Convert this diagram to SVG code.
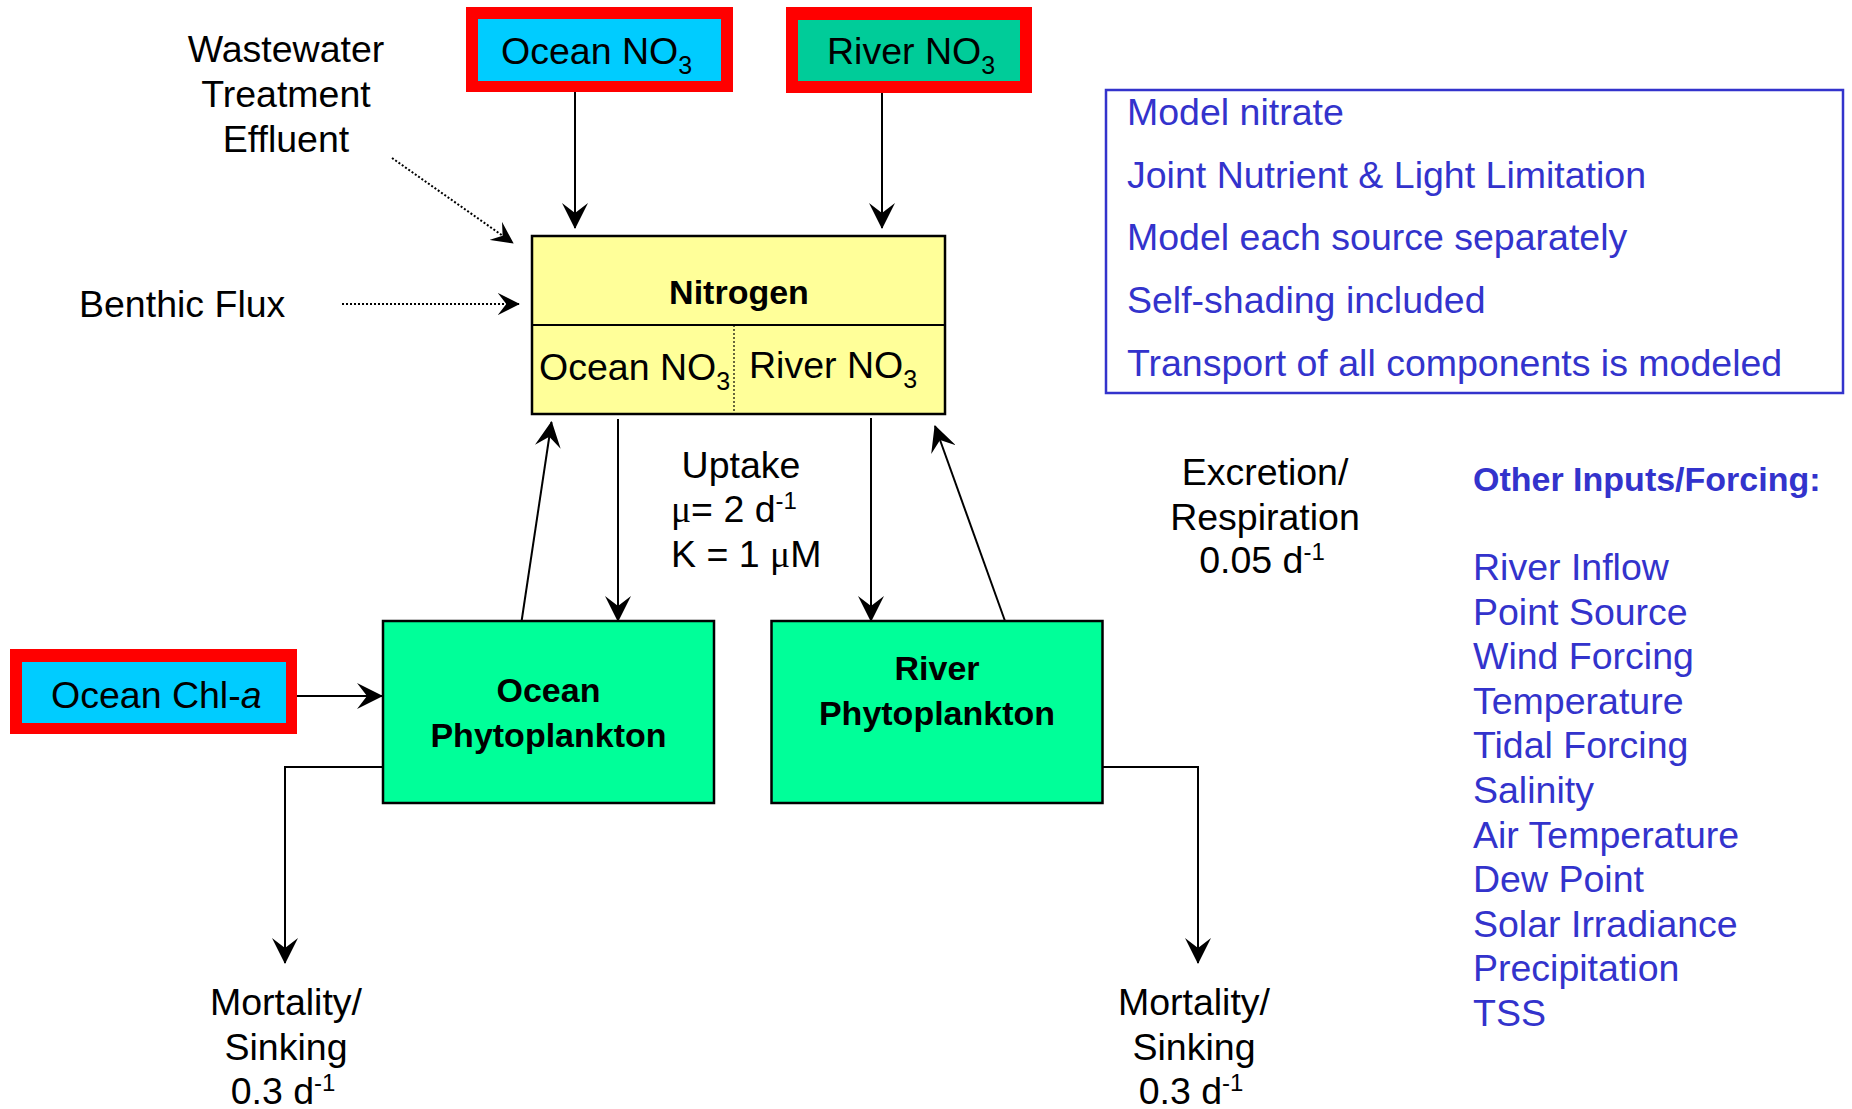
<svg xmlns="http://www.w3.org/2000/svg" width="1852" height="1109" viewBox="0 0 1852 1109">
<style>
text { font-family: "Liberation Sans", Arial, sans-serif; font-size: 37.5px; fill: #000; }
.b { font-weight: bold; font-size: 34px; }
.blue { fill: #3333CC; }
.mid { text-anchor: middle; }
.sym { font-family: "Liberation Serif", "Times New Roman", serif; }
.box { stroke: #000; stroke-width: 2.5; }
.red { fill: #FF0000; }
.conn { fill: none; stroke: #000; stroke-width: 2; }
.dot { fill: none; stroke: #000; stroke-width: 2; stroke-dasharray: 2 2; }
</style>
<defs>
<marker id="ah" markerUnits="userSpaceOnUse" markerWidth="26" markerHeight="26" viewBox="0 0 26 26" refX="25" refY="13" orient="auto">
<path d="M0,0 L26,13 L0,26 L10,13 Z" fill="#000"/>
</marker>
<marker id="ahs" markerUnits="userSpaceOnUse" markerWidth="22" markerHeight="22" viewBox="0 0 26 26" refX="25" refY="13" orient="auto">
<path d="M0,0 L26,13 L0,26 L10,13 Z" fill="#000"/>
</marker>
</defs>
<rect width="1852" height="1109" fill="#fff"/>

<g id="connectors">
<line class="conn" x1="575" y1="92" x2="575" y2="228" marker-end="url(#ah)"/>
<line class="conn" x1="882" y1="93" x2="882" y2="228" marker-end="url(#ah)"/>
<line class="dot" x1="392" y1="158" x2="513" y2="243" marker-end="url(#ahs)"/>
<line class="dot" x1="342" y1="304" x2="519" y2="304" marker-end="url(#ahs)"/>
<line class="conn" x1="618" y1="419" x2="618" y2="621" marker-end="url(#ah)"/>
<line class="conn" x1="871" y1="418" x2="871" y2="621" marker-end="url(#ah)"/>
<line class="conn" x1="521" y1="625" x2="551.5" y2="422" marker-end="url(#ah)"/>
<line class="conn" x1="1005" y1="621" x2="935" y2="426" marker-end="url(#ah)"/>
<line class="conn" x1="297" y1="696" x2="382" y2="696" marker-end="url(#ah)"/>
<path class="conn" d="M383,767 H285 V963" marker-end="url(#ah)"/>
<path class="conn" d="M1102,767 H1198 V963" marker-end="url(#ah)"/>
</g>

<g id="ocean-no3-source">
<rect class="red" x="466" y="7" width="267" height="85"/>
<rect x="478" y="19" width="243" height="62" fill="#00CCFF"/>
<text x="501" y="64">Ocean NO<tspan dy="10" font-size="25">3</tspan></text>
</g>

<g id="river-no3-source">
<rect class="red" x="786" y="7" width="246" height="86"/>
<rect x="798" y="20" width="222" height="61" fill="#00CC99"/>
<text x="827" y="64">River NO<tspan dy="10" font-size="25">3</tspan></text>
</g>

<g id="wastewater">
<text class="mid" x="286" y="62">Wastewater</text>
<text class="mid" x="286" y="107">Treatment</text>
<text class="mid" x="286" y="152">Effluent</text>
</g>

<g id="benthic-flux">
<text x="79" y="317">Benthic Flux</text>
</g>

<g id="nitrogen">
<rect class="box" x="532" y="236" width="413" height="178" fill="#FFFF99"/>
<line x1="532" y1="325" x2="945" y2="325" stroke="#000" stroke-width="2"/>
<line x1="734" y1="325" x2="734" y2="414" stroke="#000" stroke-width="1.2" stroke-dasharray="2 2"/>
<text class="b mid" x="739" y="304">Nitrogen</text>
<text x="539" y="380">Ocean NO<tspan dy="10" font-size="25">3</tspan></text>
<text x="749" y="378">River NO<tspan dy="10" font-size="25">3</tspan></text>
</g>

<g id="uptake">
<text class="mid" x="741" y="478">Uptake</text>
<text x="671" y="522"><tspan class="sym">μ</tspan>= 2 d<tspan dy="-13" font-size="24">-1</tspan></text>
<text x="671" y="567">K = 1 <tspan class="sym">μ</tspan>M</text>
</g>

<g id="excretion">
<text class="mid" x="1265" y="485">Excretion/</text>
<text class="mid" x="1265" y="530">Respiration</text>
<text class="mid" x="1262" y="573">0.05 d<tspan dy="-13" font-size="24">-1</tspan></text>
</g>

<g id="ocean-chla">
<rect class="red" x="10" y="649" width="287" height="85"/>
<rect x="22" y="662" width="264" height="61" fill="#00CCFF"/>
<text x="51" y="708">Ocean Chl-<tspan font-style="italic">a</tspan></text>
</g>

<g id="ocean-phyto">
<rect class="box" x="383" y="621" width="331" height="182" fill="#00FF99"/>
<text class="b mid" x="548.5" y="702">Ocean</text>
<text class="b mid" x="548.5" y="747">Phytoplankton</text>
</g>

<g id="river-phyto">
<rect class="box" x="771.5" y="621" width="331" height="182" fill="#00FF99"/>
<text class="b mid" x="937" y="680">River</text>
<text class="b mid" x="937" y="725">Phytoplankton</text>
</g>

<g id="mortality-ocean">
<text class="mid" x="286" y="1015">Mortality/</text>
<text class="mid" x="286" y="1060">Sinking</text>
<text class="mid" x="283" y="1104">0.3 d<tspan dy="-13" font-size="24">-1</tspan></text>
</g>

<g id="mortality-river">
<text class="mid" x="1194" y="1015">Mortality/</text>
<text class="mid" x="1194" y="1060">Sinking</text>
<text class="mid" x="1191" y="1104">0.3 d<tspan dy="-13" font-size="24">-1</tspan></text>
</g>

<g id="model-notes">
<rect x="1106" y="90" width="737" height="303" fill="#fff" stroke="#3333CC" stroke-width="2.5"/>
<text class="blue" x="1127" y="125">Model nitrate</text>
<text class="blue" x="1127" y="188">Joint Nutrient &amp; Light Limitation</text>
<text class="blue" x="1127" y="250">Model each source separately</text>
<text class="blue" x="1127" y="313">Self-shading included</text>
<text class="blue" x="1127" y="376">Transport of all components is modeled</text>
</g>

<g id="other-inputs">
<text class="blue b" x="1473" y="491">Other Inputs/Forcing:</text>
<text class="blue" x="1473" y="580">River Inflow</text>
<text class="blue" x="1473" y="624.6">Point Source</text>
<text class="blue" x="1473" y="669.2">Wind Forcing</text>
<text class="blue" x="1473" y="713.8">Temperature</text>
<text class="blue" x="1473" y="758.4">Tidal Forcing</text>
<text class="blue" x="1473" y="803">Salinity</text>
<text class="blue" x="1473" y="847.6">Air Temperature</text>
<text class="blue" x="1473" y="892.2">Dew Point</text>
<text class="blue" x="1473" y="936.8">Solar Irradiance</text>
<text class="blue" x="1473" y="981.4">Precipitation</text>
<text class="blue" x="1473" y="1026">TSS</text>
</g>
</svg>
